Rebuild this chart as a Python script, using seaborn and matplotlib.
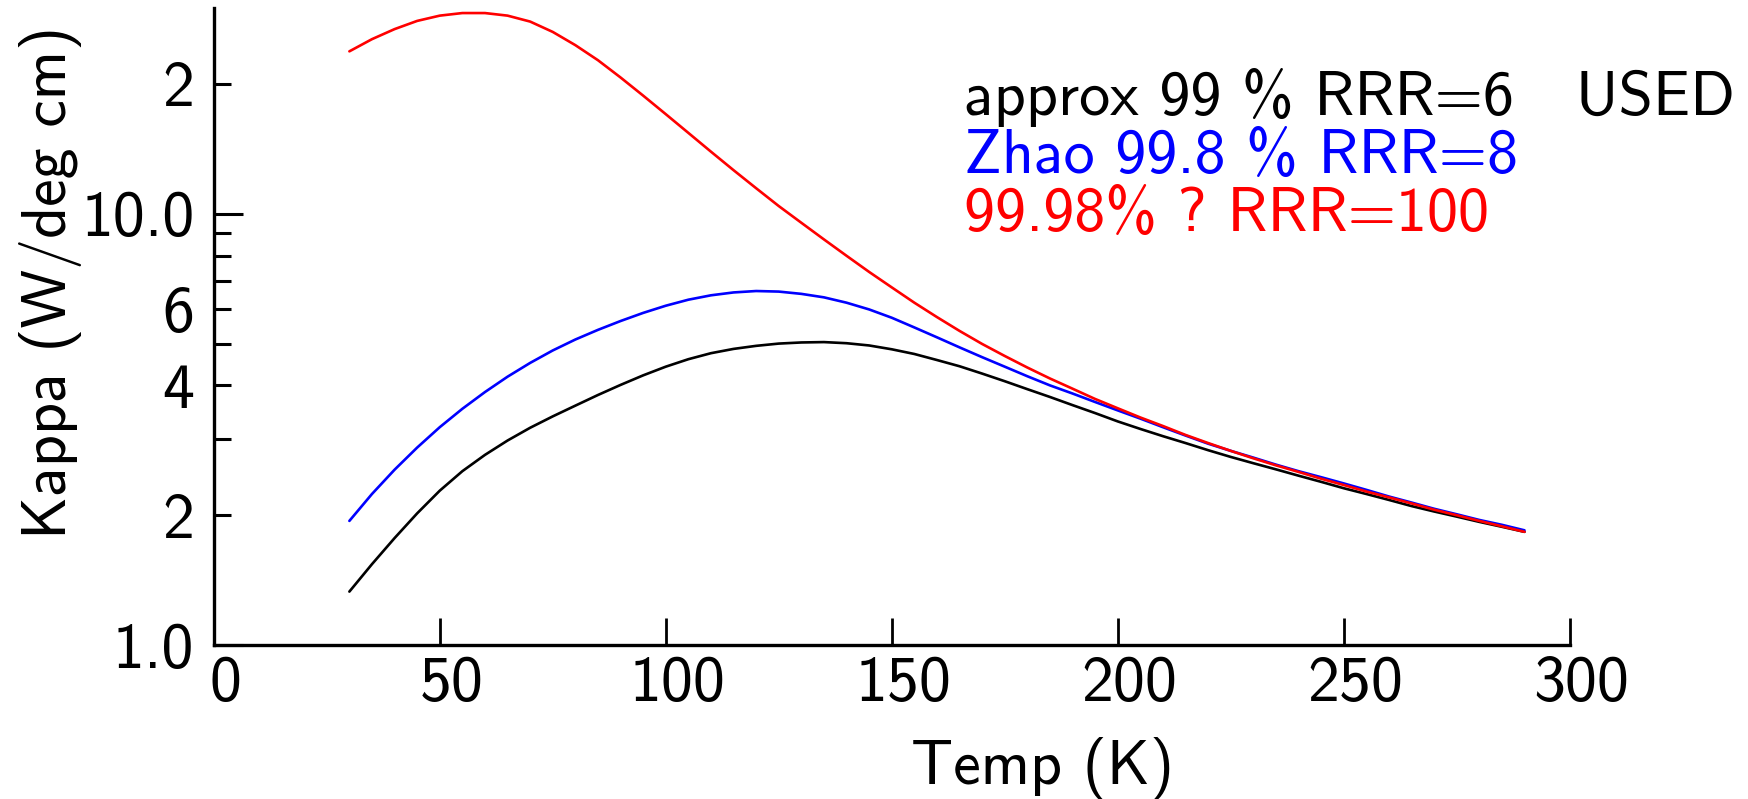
import matplotlib
matplotlib.use("Agg")
import matplotlib.pyplot as plt
import matplotlib.ticker as mticker
from matplotlib.transforms import ScaledTranslation
import pandas as pd
import seaborn as sns

# Thermal conductivity vs. temperature for three purity grades (5 K steps)
temp_k = [30, 35, 40, 45, 50, 55, 60, 65, 70, 75, 80, 85, 90, 95, 100,
          105, 110, 115, 120, 125, 130, 135, 140, 145, 150, 155, 160, 165,
          170, 175, 180, 185, 190, 195, 200, 205, 210, 215, 220, 225, 230,
          235, 240, 245, 250, 255, 260, 265, 270, 275, 280, 285, 290]

kappa_approx = [1.33, 1.54, 1.77, 2.02, 2.28, 2.53, 2.76, 2.98, 3.19, 3.39,
                3.59, 3.80, 4.01, 4.22, 4.42, 4.60, 4.75, 4.86, 4.94, 5.00,
                5.03, 5.04, 5.01, 4.95, 4.85, 4.73, 4.58, 4.43, 4.26, 4.09,
                3.92, 3.76, 3.60, 3.45, 3.30, 3.17, 3.05, 2.94, 2.83, 2.73,
                2.64, 2.555, 2.47, 2.39, 2.31, 2.24, 2.17, 2.10, 2.04, 1.985,
                1.93, 1.88, 1.83]

kappa_zhao = [1.94, 2.24, 2.55, 2.87, 3.20, 3.53, 3.86, 4.19, 4.51, 4.82,
              5.11, 5.38, 5.64, 5.89, 6.12, 6.32, 6.47, 6.57, 6.62, 6.60,
              6.52, 6.40, 6.22, 6.00, 5.74, 5.45, 5.17, 4.90, 4.65, 4.42,
              4.20, 4.00, 3.83, 3.66, 3.50, 3.35, 3.20, 3.06, 2.93, 2.82,
              2.72, 2.62, 2.53, 2.45, 2.37, 2.29, 2.21, 2.14, 2.07, 2.01,
              1.95, 1.90, 1.845]

kappa_rrr100 = [23.8, 25.4, 26.8, 28.0, 28.8, 29.2, 29.2, 28.8, 27.9, 26.4,
                24.6, 22.7, 20.7, 18.79, 17.02, 15.4, 13.93, 12.62, 11.46, 10.42,
                9.53, 8.72, 7.99, 7.33, 6.75, 6.22, 5.76, 5.35, 4.99, 4.68,
                4.40, 4.15, 3.93, 3.72, 3.54, 3.37, 3.22, 3.07, 2.94, 2.82,
                2.71, 2.61, 2.52, 2.43, 2.35, 2.27, 2.20, 2.13, 2.06, 2.00,
                1.94, 1.885, 1.83]

series_names = ["approx 99 % RRR=6   USED", "Zhao 99.8 % RRR=8", "99.98% ? RRR=100"]
series_colors = ["black", "blue", "red"]

y_major = [1, 10]
y_major_labels = ["1.0", "10.0"]
y_minor = [2, 3, 4, 5, 6, 7, 8, 9, 20]
y_minor_labels = ["2", "", "4", "", "6", "", "", "", "2"]

sns.set_theme(style="white")
plt.rcParams["font.family"] = ["cmss10", "DejaVu Sans"]
plt.rcParams["axes.unicode_minus"] = False
plt.rcParams["axes.formatter.use_mathtext"] = True

frames = []
for name, vals in zip(series_names, [kappa_approx, kappa_zhao, kappa_rrr100]):
    frames.append(pd.DataFrame({"Temp": temp_k, "Kappa": vals, "series": name}))
df = pd.concat(frames, ignore_index=True)

FS_TICK = 46
FS_TEXT = 44.7
fig = plt.figure(figsize=(17.48, 7.99), dpi=100)
ax = fig.add_axes([0.1223, 0.1927, 0.7757, 0.7973])

sns.lineplot(data=df, x="Temp", y="Kappa", hue="series", hue_order=series_names,
             palette=dict(zip(series_names, series_colors)), linewidth=1.9,
             estimator=None, sort=False, legend=False, ax=ax)

ax.set_yscale("log")
ax.set_xlim(0, 300)
ax.set_ylim(1, 30)

for side in ["top", "right"]:
    ax.spines[side].set_visible(False)
for side in ["left", "bottom"]:
    ax.spines[side].set_linewidth(2.4)
    ax.spines[side].set_color("black")

ax.xaxis.set_major_locator(mticker.MultipleLocator(50))
ax.xaxis.set_minor_locator(mticker.NullLocator())
ax.yaxis.set_major_locator(mticker.FixedLocator(y_major))
ax.yaxis.set_major_formatter(mticker.FixedFormatter(y_major_labels))
ax.yaxis.set_minor_locator(mticker.FixedLocator(y_minor))
ax.yaxis.set_minor_formatter(mticker.FixedFormatter(y_minor_labels))

ax.tick_params(axis="x", which="major", direction="in", length=19.5, width=2.0,
               labelsize=FS_TICK, pad=8, bottom=True, colors="black")
ax.tick_params(axis="y", which="major", direction="in", length=20.6, width=2.2,
               labelsize=FS_TICK, pad=14, left=True, colors="black")
ax.tick_params(axis="y", which="minor", direction="in", length=12.2, width=2.2,
               labelsize=FS_TICK, pad=14, left=True, colors="black")

ax.set_xlabel("Temp (K)", fontsize=FS_TEXT, color="black")
ax.xaxis.set_label_coords(0.611, -0.144)
ax.set_ylabel("Kappa (W/deg cm)", fontsize=FS_TEXT, color="black")
ax.yaxis.set_label_coords(-0.097, 0.5695)

# x tick labels sit slightly right of their ticks
shift = ScaledTranslation(0.11, 0, fig.dpi_scale_trans)
for lab in ax.get_xticklabels():
    lab.set_transform(lab.get_transform() + shift)

text_y = [0.832, 0.7405, 0.650]
for name, color, ty in zip(series_names, series_colors, text_y):
    ax.text(0.5535, ty, name, color=color, fontsize=FS_TEXT, va="baseline",
            ha="left", transform=ax.transAxes)

fig.savefig("out.png", dpi=100, facecolor="white")
